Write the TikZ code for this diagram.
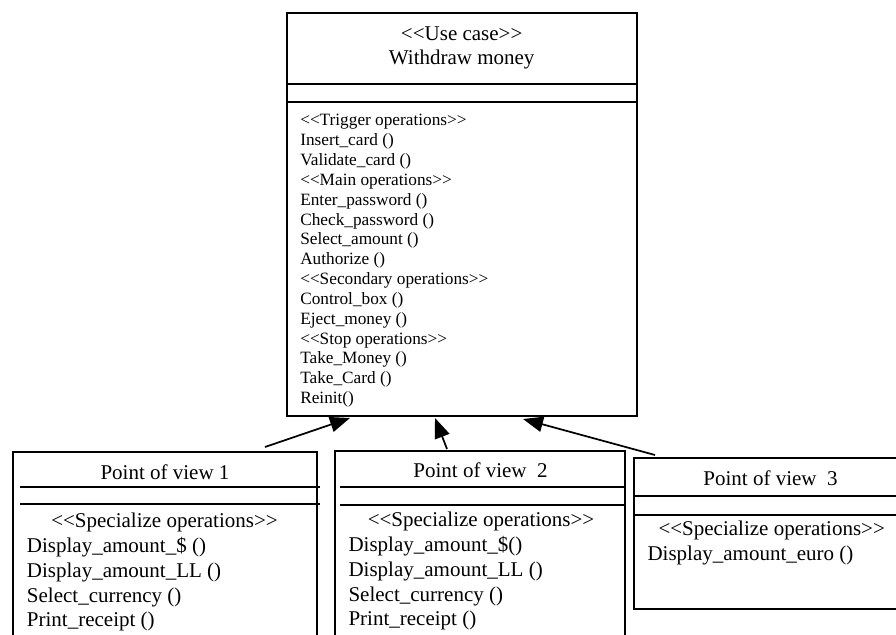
\documentclass[tikz,border=0pt]{standalone}
\usepackage{fontspec}
\setmainfont{Liberation Serif}[Ligatures=TeXOff]
\usetikzlibrary{arrows.meta}

\tikzset{
  box/.style={draw, line width=1.3pt, inner sep=0pt, fill=none},
  rule/.style={line width=1.3pt},
  big/.style={inner sep=0pt, font=\fontsize{15.75}{18}\selectfont},
  small/.style={inner sep=0pt, font=\fontsize{12.95}{14.85}\selectfont},
  gen/.style={line width=1.3pt, -{Triangle[length=15pt,width=11.5pt]}},
}

\begin{document}
\begin{tikzpicture}[x=0.75pt, y=-0.75pt]
\useasboundingbox (0,0) rectangle (896,635);
\clip (0,0) rectangle (896,635);

% ---------- use case class ----------
\node[box, minimum width=262.5pt, minimum height=302pt] (main) at (461.7,214.7) {};
\draw[rule] (main.west |- 0,84) -- (main.east |- 0,84);
\draw[rule] (main.west |- 0,101.7) -- (main.east |- 0,101.7);
\node[big, anchor=base] (uc)  at (461.7,40.3) {<<Use case>>};
\node[big, anchor=base] (ucn) at (461.7,64.3) {Withdraw money};

\foreach \txt [count=\i from 0] in {
  <<Trigger operations>>, Insert\_card (), Validate\_card (),
  <<Main operations>>, Enter\_password (), Check\_password (),
  Select\_amount (), Authorize (), <<Secondary operations>>,
  Control\_box (), Eject\_money (), <<Stop operations>>,
  Take\_Money (), Take\_Card (), Reinit()}
  \node[small, anchor=base west] (op\i) at (300,125.9+19.83*\i) {\txt};

% ---------- point of view 1 ----------
\node[box, minimum width=228pt, minimum height=186.2pt] (pv1) at (165,575.85) {};
\draw[rule] (20,487) -- (320,487);
\draw[rule] (20,504) -- (320,504);
\node[big, anchor=base] (pv1t) at (165,479.5) {Point of view 1};
\node[big, anchor=base] (pv1s) at (164.5,527.7) {<<Specialize operations>>};
\foreach \txt [count=\i from 0] in {
  Display\_amount\_\$ (), Display\_amount\_LL (), Select\_currency (), Print\_receipt ()}
  \node[big, anchor=base west] (pva\i) at (26.7,552.7+24.7*\i) {\txt};

% ---------- point of view 2 ----------
\node[box, minimum width=217.5pt, minimum height=186.75pt] (pv2) at (480,575.5) {};
\draw[rule] (340,487) -- (625,487);
\draw[rule] (340,505) -- (625,505);
\node[big, anchor=base] (pv2t) at (480.5,477.5) {Point of view\ \ 2};
\node[big, anchor=base] (pv2s) at (481,526.7) {<<Specialize operations>>};
\foreach \txt [count=\i from 0] in {
  Display\_amount\_\$(), Display\_amount\_LL (), Select\_currency (), Print\_receipt ()}
  \node[big, anchor=base west] (pvb\i) at (348.3,551.7+24.7*\i) {\txt};

% ---------- point of view 3 ----------
\node[box, minimum width=205.5pt, minimum height=113.25pt] (pv3) at (771,533.8) {};
\draw[rule] (pv3.west |- 0,496) -- (pv3.east |- 0,496);
\draw[rule] (pv3.west |- 0,515) -- (pv3.east |- 0,515);
\node[big, anchor=base] (pv3t) at (770.5,485.3) {Point of view\ \ 3};
\node[big, anchor=base] (pv3s) at (771.7,535.3) {<<Specialize operations>>};
\node[big, anchor=base west] (pvc0) at (647.3,560.3) {Display\_amount\_euro ()};

% ---------- generalisation arrows ----------
\coordinate (tail1) at (265,447);
\coordinate (head1) at (350,418);
\coordinate (tail2) at (447,449);
\coordinate (head2) at (435,418);
\coordinate (tail3) at (655,455);
\coordinate (head3) at (523,419);
\draw[gen] (tail1) -- (head1);
\draw[gen] (tail2) -- (head2);
\draw[gen] (tail3) -- (head3);
\end{tikzpicture}
\end{document}
